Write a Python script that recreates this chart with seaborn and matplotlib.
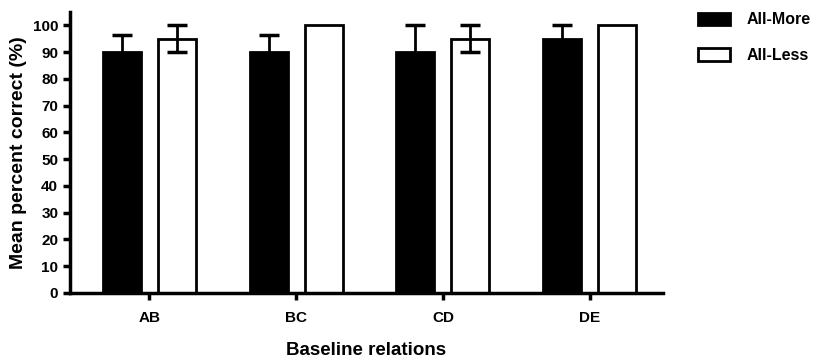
import pandas as pd
import matplotlib
matplotlib.use('Agg')
import matplotlib.pyplot as plt
import seaborn as sns
import numpy as np

# data
relations = ['AB', 'BC', 'CD', 'DE']
groups = ['All-More', 'All-Less']
all_more = [90, 90, 90, 95]
all_less = [95, 100, 95, 100]
err_more = [6.5, 6.5, 10, 5]
err_less = [5, 0, 5, 0]

df = pd.DataFrame({
    'relation': relations * 2,
    'group': [groups[0]] * 4 + [groups[1]] * 4,
    'pct': all_more + all_less,
})

sns.set_style('ticks', {'text.color': 'black', 'axes.labelcolor': 'black',
                        'xtick.color': 'black', 'ytick.color': 'black', 'axes.edgecolor': 'black'})
plt.rcParams['font.family'] = ['Liberation Sans', 'DejaVu Sans']
plt.rcParams['font.weight'] = 'bold'

fig = plt.figure(figsize=(8.18, 3.61), dpi=100)
ax = fig.add_axes([0.0856, 0.1884, 0.725, 0.7786])

sns.barplot(data=df, x='relation', y='pct', hue='group', order=relations, hue_order=groups,
            palette=['black', 'white'], edgecolor='black', linewidth=2,
            width=0.75, gap=0.31, errorbar=None, ax=ax)

# error bars on top of each bar
errs = err_more + err_less
for p, e in zip(ax.patches[:8], errs):
    if e == 0:
        continue
    xc = p.get_x() + p.get_width() / 2
    h = p.get_height()
    ax.errorbar(xc, h, yerr=e, color='black', elinewidth=2, capsize=7, capthick=2.5, zorder=5)

ax.set_ylim(0, 105)
ax.set_xlim(-0.54, 3.5)
ax.set_yticks(np.arange(0, 101, 10))
ax.set_ylabel('Mean percent correct (%)', fontsize=14, fontweight='bold', labelpad=4)
ax.set_xlabel('Baseline relations', fontsize=13.5, fontweight='bold', labelpad=12)
ax.tick_params(axis='both', labelsize=11, width=2.5, length=5, direction='out')
ax.tick_params(axis='x', pad=8)
for s in ['left', 'bottom']:
    ax.spines[s].set_linewidth(2.5)
sns.despine(ax=ax)

ax.legend(loc='upper left', bbox_to_anchor=(1.035, 1.05), frameon=False, fontsize=11.5,
          handlelength=2.0, handleheight=0.8, labelspacing=1.3, handletextpad=1.0)

plt.savefig('out.png', dpi=100)
